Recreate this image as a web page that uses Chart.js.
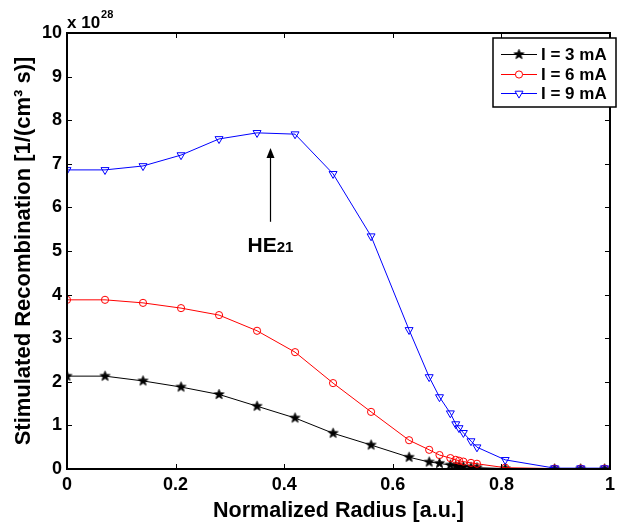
<!DOCTYPE html>
<html>
<head>
<meta charset="utf-8">
<script src="https://cdn.jsdelivr.net/npm/chart.js@4.4.1/dist/chart.umd.min.js"></script>
<style>
  html, body { margin: 0; padding: 0; background: #fff; }
  #wrap { width: 620px; height: 523px; }
</style>
</head>
<body>
<div id="wrap"><canvas id="c" width="620" height="523"></canvas></div>
<script>
// ---- data (values in units of 1e28 1/(cm^3 s)) ----
const radius = [0, 0.07, 0.14, 0.21, 0.28, 0.35, 0.42, 0.49, 0.56, 0.63, 0.667, 0.686, 0.706, 0.716, 0.722, 0.730, 0.744, 0.755, 0.807, 0.898, 0.946, 0.99];
const rec3mA = [2.13, 2.13, 2.02, 1.88, 1.71, 1.44, 1.17, 0.82, 0.55, 0.27, 0.16, 0.13, 0.09, 0.07, 0.06, 0.05, 0.04, 0.03, 0.01, 0.0, 0.0, 0.0];
const rec6mA = [3.88, 3.88, 3.81, 3.69, 3.53, 3.17, 2.68, 1.97, 1.31, 0.66, 0.44, 0.32, 0.25, 0.21, 0.19, 0.17, 0.14, 0.12, 0.03, 0.01, 0.01, 0.01];
const rec9mA = [6.86, 6.86, 6.95, 7.20, 7.57, 7.71, 7.68, 6.77, 5.34, 3.19, 2.11, 1.65, 1.28, 1.03, 0.94, 0.83, 0.64, 0.50, 0.21, 0.02, 0.02, 0.02];
const seriesLabels = ['I = 3 mA', 'I = 6 mA', 'I = 9 mA'];
const xTickValues = [0, 0.2, 0.4, 0.6, 0.8, 1];
const xTickLabels = ['0', '0.2', '0.4', '0.6', '0.8', '1'];
const yTickValues = [0, 1, 2, 3, 4, 5, 6, 7, 8, 9, 10];
const yTickLabels = ['0', '1', '2', '3', '4', '5', '6', '7', '8', '9', '10'];
const annotationX = 0.3745, annotationTipY = 7.36, annotationBaseY = 5.67, annotationTextY = 4.98;

const FONT = '"Liberation Sans", Arial, Helvetica, sans-serif';

// filled five-point star marker
function makeStar(r) {
  const s = Math.ceil(r * 2 + 2);
  const cv = document.createElement('canvas');
  cv.width = s; cv.height = s;
  const g = cv.getContext('2d');
  const cx = s / 2, cy = s / 2;
  g.beginPath();
  for (let i = 0; i < 10; i++) {
    const rr = i % 2 === 0 ? r : r * 0.42;
    const a = -Math.PI / 2 + i * Math.PI / 5;
    const px = cx + rr * Math.cos(a), py = cy + rr * Math.sin(a);
    if (i === 0) g.moveTo(px, py); else g.lineTo(px, py);
  }
  g.closePath();
  g.fillStyle = '#000';
  g.fill();
  g.strokeStyle = '#000'; g.lineWidth = 0.8; g.stroke();
  return cv;
}
const starImg = makeStar(5.2);

function pts(ys) { return radius.map((x, i) => ({ x: x, y: ys[i] })); }

const datasets = [
  { label: seriesLabels[0], data: pts(rec3mA), borderColor: '#000', backgroundColor: '#000', order: 3,
    borderWidth: 1, pointStyle: starImg, pointRadius: 5, tension: 0 },
  { label: seriesLabels[1], data: pts(rec6mA), borderColor: '#ff0000', backgroundColor: 'rgba(0,0,0,0)', order: 2,
    borderWidth: 1, pointStyle: 'circle', pointRadius: 3.6, pointBorderWidth: 1, tension: 0 },
  { label: seriesLabels[2], data: pts(rec9mA), borderColor: '#0000ff', backgroundColor: 'rgba(0,0,0,0)', order: 1,
    borderWidth: 1, pointStyle: 'triangle', pointRotation: 180, pointRadius: 4.6, pointBorderWidth: 1, tension: 0 }
];

const framePlugin = {
  id: 'frame',
  afterDraw(chart) {
    const ctx = chart.ctx;
    const a = chart.chartArea;
    const xs = chart.scales.x, ys = chart.scales.y;
    ctx.save();
    // ticks inward on all four sides
    ctx.strokeStyle = '#000';
    ctx.lineWidth = 1;
    const tl = 5;
    xTickValues.forEach(v => {
      const px = Math.round(xs.getPixelForValue(v)) + 0.5;
      ctx.beginPath();
      ctx.moveTo(px, a.bottom); ctx.lineTo(px, a.bottom - tl);
      ctx.moveTo(px, a.top); ctx.lineTo(px, a.top + tl);
      ctx.stroke();
    });
    yTickValues.forEach(v => {
      const py = Math.round(ys.getPixelForValue(v)) + 0.5;
      ctx.beginPath();
      ctx.moveTo(a.left, py); ctx.lineTo(a.left + tl, py);
      ctx.moveTo(a.right, py); ctx.lineTo(a.right - tl, py);
      ctx.stroke();
    });
    // frame
    ctx.lineWidth = 2;
    ctx.strokeRect(a.left, a.top, a.right - a.left, a.bottom - a.top);

    // exponent label
    ctx.fillStyle = '#000';
    ctx.textBaseline = 'alphabetic';
    ctx.textAlign = 'left';
    ctx.font = 'bold 17px ' + FONT;
    ctx.fillText('x 10', a.left, 28);
    const w10 = ctx.measureText('x 10').width;
    ctx.font = 'bold 11px ' + FONT;
    ctx.fillText('28', a.left + w10 + 1, 18);

    // annotation arrow + text
    const axp = Math.round(xs.getPixelForValue(annotationX)) + 0.5;
    const tip = ys.getPixelForValue(annotationTipY);
    const base = ys.getPixelForValue(annotationBaseY);
    ctx.lineWidth = 1.2;
    ctx.beginPath();
    ctx.moveTo(axp, base); ctx.lineTo(axp, tip + 8);
    ctx.stroke();
    ctx.beginPath();
    ctx.moveTo(axp, tip); ctx.lineTo(axp - 4, tip + 10); ctx.lineTo(axp + 4, tip + 10);
    ctx.closePath(); ctx.fill();
    const ty = ys.getPixelForValue(annotationTextY);
    ctx.font = 'bold 21px ' + FONT;
    const wHE = ctx.measureText('HE').width;
    ctx.font = 'bold 15px ' + FONT;
    const w21 = ctx.measureText('21').width;
    const x0 = axp - (wHE + w21) / 2;
    ctx.font = 'bold 21px ' + FONT;
    ctx.fillText('HE', x0, ty);
    ctx.font = 'bold 15px ' + FONT;
    ctx.fillText('21', x0 + wHE, ty);

    // legend box
    const lx = 493, ly = 38, lw = 123, lh = 69;
    ctx.fillStyle = '#fff';
    ctx.fillRect(lx, ly, lw, lh);
    ctx.strokeStyle = '#000';
    ctx.lineWidth = 1.5;
    ctx.strokeRect(lx, ly, lw, lh);
    const rows = [54, 74, 93];
    ctx.font = 'bold 17px ' + FONT;
    ctx.textBaseline = 'middle';
    chart.data.datasets.forEach((ds, i) => {
      const y = rows[i] + 0.5;
      ctx.strokeStyle = ds.borderColor;
      ctx.lineWidth = 1;
      ctx.beginPath(); ctx.moveTo(501, y); ctx.lineTo(537, y); ctx.stroke();
      if (i === 0) {
        ctx.drawImage(starImg, 519 - starImg.width / 2, y - starImg.height / 2);
      } else {
        ctx.fillStyle = '#fff';
        ctx.strokeStyle = ds.borderColor;
        ctx.lineWidth = 1;
        Chart.helpers.drawPoint(ctx, {
          pointStyle: ds.pointStyle, rotation: ds.pointRotation || 0,
          radius: ds.pointRadius, borderWidth: 1
        }, 519, y);
      }
      ctx.fillStyle = '#000';
      ctx.fillText(ds.label, 541, rows[i] + 1);
    });
    ctx.restore();
  }
};

new Chart(document.getElementById('c'), {
  type: 'line',
  data: { datasets: datasets },
  options: {
    responsive: false,
    animation: false,
    devicePixelRatio: 1,
    layout: { padding: { top: 33, right: 2, left: 0, bottom: 0 } },
    plugins: { legend: { display: false }, tooltip: { enabled: false } },
    scales: {
      x: {
        type: 'linear', min: 0, max: 1,
        afterBuildTicks(scale) { scale.ticks = xTickValues.map(v => ({ value: v })); },
        afterFit(scale) { scale.height = 54; },
        grid: { display: false, drawTicks: false },
        border: { display: false },
        ticks: {
          color: '#000', padding: 5,
          font: { family: FONT, size: 18, weight: 'bold' },
          callback: (v) => { const i = xTickValues.indexOf(v); return i >= 0 ? xTickLabels[i] : ''; },
          maxRotation: 0
        },
        title: {
          display: true, text: 'Normalized Radius [a.u.]', color: '#000',
          font: { family: FONT, size: 21.5, weight: 'bold', lineHeight: 1 },
          padding: { top: 0, bottom: 1 }
        }
      },
      y: {
        type: 'linear', min: 0, max: 10,
        afterBuildTicks(scale) { scale.ticks = yTickValues.map(v => ({ value: v })); },
        afterFit(scale) { scale.width = 67; },
        grid: { display: false, drawTicks: false },
        border: { display: false },
        ticks: {
          color: '#000', padding: 5,
          font: { family: FONT, size: 18, weight: 'bold' },
          callback: (v) => { const i = yTickValues.indexOf(v); return i >= 0 ? yTickLabels[i] : ''; }
        },
        title: {
          display: true, text: 'Stimulated Recombination [1/(cm³ s)]', color: '#000',
          font: { family: FONT, size: 22, weight: 'bold', lineHeight: 1 },
          padding: { top: 13, bottom: 0 }
        }
      }
    }
  },
  plugins: [framePlugin]
});
</script>
</body>
</html>
